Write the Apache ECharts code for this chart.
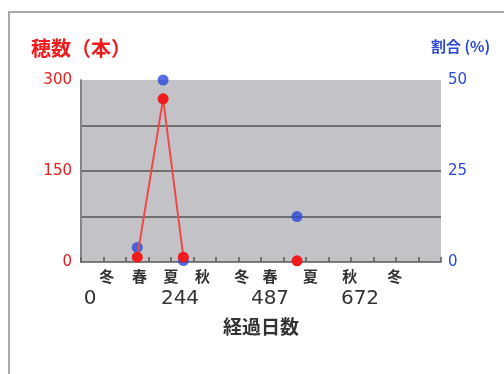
<!DOCTYPE html>
<html><head><meta charset="utf-8">
<script src="https://cdn.jsdelivr.net/npm/echarts@6/dist/echarts.min.js"></script>
<style>
html,body{margin:0;padding:0;background:#fff;}
#frame{position:absolute;left:8px;top:11px;width:520px;height:400px;border-left:2px solid #a8a8a8;border-top:2px solid #a8a8a8;}
#c{position:absolute;left:0;top:0;width:504px;height:374px;}
</style></head>
<body>
<div id="frame"></div>
<div id="c"></div>
<script>
// x positions are in tick units along the bottom axis (16 ticks across)
const xPos = [2.5, 3.65, 4.55, 9.6];
const spikes = [8, 269, 8, 2];        // 穂数（本）
const ratio = [4, 50, 0.4, 12.5];     // 割合 (%)
const linkedCount = 3;                // first three spike points joined by a line
const seasonLabels = ['冬','春','夏','秋','冬','春','夏','秋','冬'];
const seasonPos = [1.15, 2.6, 4.0, 5.4, 7.15, 8.4, 10.2, 11.95, 13.95];
const dayLabels = ['0','244','487','672'];
const dayPos = [0.4, 4.4, 8.4, 12.4];
const leftTicks = [0, 150, 300];
const rightTicks = [0, 25, 50];
const leftTitle = '穂数（本）';
const rightTitle = '割合 (%)';
const xTitle = '経過日数';

const red = '#ee1c1c', blue = '#2a48d8';
const spikeData = [];
xPos.forEach((x, i) => {
  if (i === linkedCount) spikeData.push([x, '-']);
  spikeData.push([x, spikes[i]]);
});
const ratioData = xPos.map((x, i) => [x, ratio[i]]);

const numFont = 'DejaVu Sans';
const cjk = '"Noto Sans CJK JP", sans-serif';
const chart = echarts.init(document.getElementById('c'));
chart.setOption({
  animation: false,
  title: [
    {text: leftTitle, left: 31, top: 38, padding: 0,
     textStyle: {color: red, fontSize: 20, fontWeight: 'bold', fontFamily: cjk}},
    {text: rightTitle, left: 431, top: 39, padding: 0,
     textStyle: {color: blue, fontSize: 15, fontWeight: 'bold', fontFamily: cjk}}
  ],
  grid: {left: 81, top: 80, right: 63, bottom: 112, show: true, backgroundColor: '#c3c2c7', borderWidth: 0},
  xAxis: [
    {type: 'value', min: 0, max: 16, interval: 1,
     axisLine: {show: true, lineStyle: {color: '#5a5a5a', width: 1.5}},
     axisTick: {show: true, inside: true, length: 5, lineStyle: {color: '#5a5a5a', width: 1.5}},
     axisLabel: {show: false}, splitLine: {show: false}},
    {type: 'value', min: 0, max: 16, position: 'bottom', gridIndex: 0,
     axisLine: {show: false}, axisTick: {show: false}, splitLine: {show: false},
     axisLabel: {show: true, customValues: seasonPos, margin: 7, color: '#333', fontSize: 15, fontWeight: 'bold', fontFamily: cjk,
       formatter: v => { const i = seasonPos.findIndex(p => Math.abs(p - v) < 1e-6); return i >= 0 ? seasonLabels[i] : ''; }}},
    {type: 'value', min: 0, max: 16, position: 'bottom', gridIndex: 0,
     axisLine: {show: false}, axisTick: {show: false}, splitLine: {show: false},
     axisLabel: {show: true, customValues: dayPos, margin: 27, color: '#333', fontSize: 20, fontFamily: numFont,
       formatter: v => { const i = dayPos.findIndex(p => Math.abs(p - v) < 1e-6); return i >= 0 ? dayLabels[i] : ''; }},
     name: xTitle, nameLocation: 'middle', nameGap: 55,
     nameTextStyle: {color: '#333', fontSize: 19, fontWeight: 'bold', fontFamily: cjk}}
  ],
  yAxis: [
    {type: 'value', min: 0, max: 300, interval: 75, position: 'left',
     axisLine: {show: true, lineStyle: {color: '#5a5a5a', width: 1.5}},
     axisTick: {show: false},
     axisLabel: {color: red, fontSize: 15, fontFamily: numFont, margin: 9,
       formatter: v => leftTicks.includes(v) ? String(v) : ''},
     splitLine: {show: true, showMinLine: false, showMaxLine: false, lineStyle: {color: '#555', width: 1.5}}},
    {type: 'value', min: 0, max: 50, interval: 12.5, position: 'right',
     axisLine: {show: true, lineStyle: {color: '#8a8a8a', width: 1}},
     axisTick: {show: false},
     axisLabel: {color: blue, fontSize: 15, fontFamily: numFont, margin: 7,
       formatter: v => rightTicks.includes(v) ? String(v) : ''},
     splitLine: {show: false}}
  ],
  series: [
    {type: 'line', xAxisIndex: 0, yAxisIndex: 0, data: spikeData, connectNulls: false,
     symbol: 'circle', symbolSize: 11, itemStyle: {color: red},
     lineStyle: {color: '#f04848', width: 2}},
    {type: 'scatter', xAxisIndex: 0, yAxisIndex: 1, data: ratioData,
     symbol: 'circle', symbolSize: 11, itemStyle: {color: blue}}
  ]
});
</script>
</body></html>
